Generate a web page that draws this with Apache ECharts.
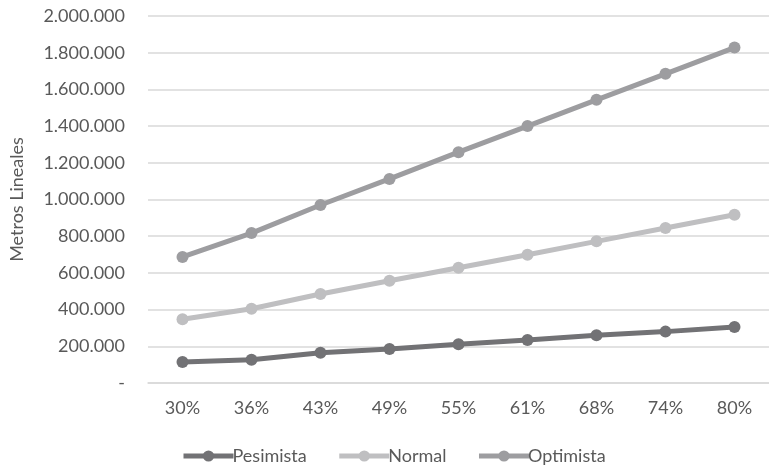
<!DOCTYPE html>
<html>
<head>
<meta charset="utf-8">
<script src="https://cdn.jsdelivr.net/npm/echarts@6/dist/echarts.min.js"></script>
<style>html,body{margin:0;padding:0;background:#fff}#c{width:769px;height:466px}</style>
</head>
<body>
<div id="c"></div>
<script>
const categories = ['30%','36%','43%','49%','55%','61%','68%','74%','80%'];
const pesimista = [114000,127000,165000,185000,211000,234000,260000,280000,305000];
const normal = [347000,405000,485000,557000,628000,699000,772000,845000,917000];
const optimista = [687000,817000,970000,1112000,1258000,1400000,1543000,1685000,1828000];
const yTicks = [0,200000,400000,600000,800000,1000000,1200000,1400000,1600000,1800000,2000000];
const seriesNames = ['Pesimista','Normal','Optimista'];
const colors = ['#727275','#bfbfc1','#9d9da0'];

const font = 'Lato';
const textColor = '#595959';
function fmt(v){
  if (v === 0) return '-';
  return String(v).replace(/\B(?=(\d{3})+(?!\d))/g, '.');
}
const chart = echarts.init(document.getElementById('c'), null, {renderer:'canvas'});
const data = [pesimista, normal, optimista];
chart.setOption({
  animation:false,
  textStyle:{fontFamily:font},
  grid:{left:148, right:-9, top:16, bottom:83, containLabel:false},
  xAxis:{
    type:'category', data:categories, boundaryGap:true,
    axisLine:{show:true, lineStyle:{color:'#d9d9d9', width:1.5}},
    axisTick:{show:false},
    axisLabel:{color:textColor, fontSize:18, fontFamily:font, margin:16}
  },
  yAxis:{
    type:'value', min:yTicks[0], max:yTicks[yTicks.length-1], interval:yTicks[1]-yTicks[0],
    name:'Metros Lineales', nameLocation:'middle', nameGap:122,
    nameTextStyle:{color:textColor, fontSize:18, fontFamily:font},
    axisLine:{show:false}, axisTick:{show:false},
    splitLine:{lineStyle:{color:'#d9d9d9', width:1.5}},
    axisLabel:{color:textColor, fontSize:18, fontFamily:font, margin:23, formatter:fmt}
  },
  legend:{
    data:seriesNames, left:176, top:442, itemWidth:50, itemHeight:14, itemGap:30,
    lineStyle:{width:5},
    textStyle:{color:textColor, fontSize:18, fontFamily:font, padding:[0,0,0,-6]}
  },
  series: seriesNames.map((n,i)=>({
    name:n, type:'line', data:data[i], symbol:'circle', symbolSize:12,
    lineStyle:{color:colors[i], width:5}, itemStyle:{color:colors[i]}
  }))
});
</script>
</body>
</html>
